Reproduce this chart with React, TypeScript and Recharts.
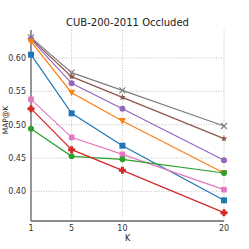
import { LineChart, Line, CartesianGrid, XAxis, YAxis } from 'recharts';

const kValues = [1, 5, 10, 20];
const blueVals = [0.605, 0.517, 0.4685, 0.3865];
const orangeVals = [0.6245, 0.548, 0.5055, 0.4275];
const greenVals = [0.494, 0.4525, 0.448, 0.4275];
const redVals = [0.524, 0.4625, 0.4315, 0.368];
const purpleVals = [0.628, 0.562, 0.524, 0.4465];
const brownVals = [0.629, 0.572, 0.541, 0.479];
const pinkVals = [0.538, 0.481, 0.4555, 0.4025];
const grayVals = [0.631, 0.578, 0.5515, 0.498];
const yTicks = [0.4, 0.45, 0.5, 0.55, 0.6];

const data = kValues.map((k, i) => ({
  k,
  blue: blueVals[i],
  orange: orangeVals[i],
  green: greenVals[i],
  red: redVals[i],
  purple: purpleVals[i],
  brown: brownVals[i],
  pink: pinkVals[i],
  gray: grayVals[i],
}));

const marker = (shape: string, color: string) => (ctx: any) => {
  const { cx, cy, index } = ctx;
  if (cx == null || cy == null) return <g key={index} />;
  switch (shape) {
    case 'square':
      return <rect key={index} x={cx - 3} y={cy - 3} width={6} height={6} fill={color} />;
    case 'tri':
      return <polygon key={index} points={`${cx - 3.5},${cy - 3} ${cx + 3.5},${cy - 3} ${cx},${cy + 3.5}`} fill={color} />;
    case 'circle':
      return <circle key={index} cx={cx} cy={cy} r={3} fill={color} />;
    case 'plus':
      return (
        <path key={index} fill={color}
          d={`M${cx - 1.5},${cy - 3.5}h3v2h2v3h-2v2h-3v-2h-2v-3h2z`} />
      );
    case 'star': {
      const pts: string[] = [];
      for (let j = 0; j < 10; j++) {
        const r = j % 2 === 0 ? 3.5 : 1.5;
        const a = -Math.PI / 2 + (j * Math.PI) / 5;
        pts.push(`${cx + r * Math.cos(a)},${cy + r * Math.sin(a)}`);
      }
      return <polygon key={index} points={pts.join(' ')} fill={color} />;
    }
    case 'x':
      return (
        <path key={index} stroke={color} strokeWidth={1.2} fill="none"
          d={`M${cx - 3},${cy - 3}L${cx + 3},${cy + 3}M${cx - 3},${cy + 3}L${cx + 3},${cy - 3}`} />
      );
    default:
      return <rect key={index} x={cx - 2.8} y={cy - 2.8} width={5.6} height={5.6} fill={color} />;
  }
};

const series = [
  { key: 'gray', color: '#7f7f7f', shape: 'x' },
  { key: 'brown', color: '#8c564b', shape: 'star' },
  { key: 'purple', color: '#9467bd', shape: 'circle' },
  { key: 'orange', color: '#ff7f0e', shape: 'tri' },
  { key: 'blue', color: '#1f77b4', shape: 'square' },
  { key: 'pink', color: '#e377c2', shape: 'pinksq' },
  { key: 'green', color: '#2ca02c', shape: 'circle' },
  { key: 'red', color: '#d62728', shape: 'plus' },
];

const tickStyle = { fontSize: 8, fill: '#333', fontFamily: 'DejaVu Sans' };
const frame = '#666';

export default function App() {
  return (
    <div style={{ position: 'absolute', left: 0, top: 0, width: 249, height: 249, background: '#fff', fontFamily: 'DejaVu Sans' }}>
      <div style={{ position: 'absolute', top: 17, left: 31, width: 193, textAlign: 'center', fontSize: 10, color: '#222' }}>
        CUB-200-2011 Occluded
      </div>
      <div style={{ position: 'absolute', top: 234, left: 31, width: 193, textAlign: 'center', fontSize: 8, color: '#222' }}>
        K
      </div>
      <svg width={12} height={249} style={{ position: 'absolute', left: 0, top: 0, zIndex: 2 }}>
        <text x={8} y={120} transform="rotate(-90 8 120)" textAnchor="middle" fontSize={7.5} fill="#222" fontFamily="DejaVu Sans">
          MAP@K
        </text>
      </svg>
      <LineChart width={249} height={249} data={data} margin={{ top: 30, right: 25, bottom: 0, left: 0 }}>
        <CartesianGrid stroke="#c0c0c0" strokeDasharray="1 1.5" horizontalValues={yTicks} verticalValues={kValues} />
        <XAxis dataKey="k" type="number" domain={[1, 20]} ticks={kValues} height={28}
          tick={tickStyle} tickSize={0} tickMargin={4} tickLine={false} stroke={frame} strokeWidth={1.3} />
        <XAxis xAxisId="top" orientation="top" type="number" domain={[1, 20]} height={0}
          tick={false} tickLine={false} stroke={frame} strokeWidth={1.3} />
        <YAxis type="number" domain={[0.3555, 0.642]} ticks={yTicks} width={31}
          tickFormatter={(v: number) => v.toFixed(2)} tick={tickStyle} tickSize={0} tickMargin={5}
          tickLine={false} stroke={frame} strokeWidth={1.3} />
        <YAxis yAxisId="right" orientation="right" width={0} tick={false} tickLine={false} stroke={frame} strokeWidth={1.3} />
        {series.map((s) => (
          <Line key={s.key} dataKey={s.key} stroke={s.color} strokeWidth={1.2}
            dot={marker(s.shape, s.color)} activeDot={false} isAnimationActive={false} />
        ))}
      </LineChart>
    </div>
  );
}
